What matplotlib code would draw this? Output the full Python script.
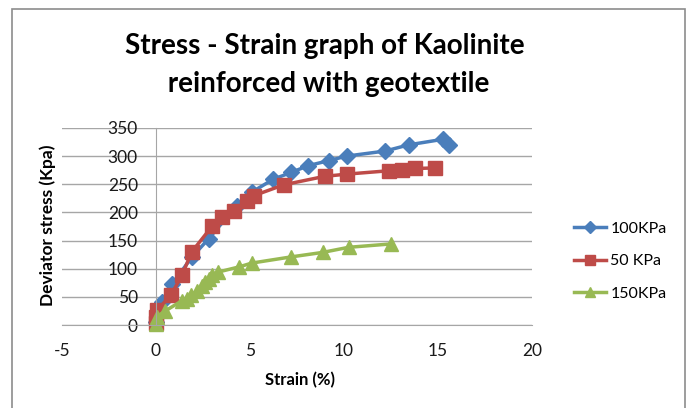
'''
Stress - strain curves of kaolinite reinforced with geotextile.
'''

import matplotlib
matplotlib.use("Agg")
import matplotlib.pyplot as plt
from matplotlib.patches import Rectangle

plt.rcParams['font.family'] = ['Lato', 'DejaVu Sans']
plt.rcParams['axes.unicode_minus'] = False

# 100 KPa confining pressure
strain_100 = [0, 0.3, 0.85, 1.9, 2.8, 4.3, 5.1, 6.25, 7.2, 8.1, 9.2, 10.15, 12.2, 13.45, 15.3, 15.6]
stress_100 = [5, 40, 72, 120, 153, 212, 236, 259, 271, 283, 292, 300, 309, 320, 330, 320]

# 50 KPa
strain_50 = [0, 0, 0.05, 0.8, 1.38, 1.91, 2.98, 3.5, 4.13, 4.84, 5.23, 6.8, 8.97, 10.16, 12.4, 13.1, 13.8, 14.86]
stress_50 = [3, 15, 26, 53, 88, 130, 175, 191, 202, 221, 230, 249, 264, 268, 274, 276, 278, 279]

# 150 KPa
strain_150 = [0, 0.05, 0.5, 1.38, 1.65, 1.86, 2.18, 2.45, 2.62, 2.84, 2.98, 3.3, 4.4, 5.1, 7.2, 8.88, 10.25, 12.5]
stress_150 = [2, 15, 25, 43, 47, 53, 60, 70, 76, 82, 88, 94, 103, 110, 121, 129, 138, 144]

X_TICKS = [-5, 0, 5, 10, 15, 20]
Y_TICKS = [0, 50, 100, 150, 200, 250, 300, 350]

BLUE = "#4A7EBB"
RED = "#BE4B48"
GREEN = "#98B954"

fig = plt.figure(figsize=(6.88, 4.08), dpi=100)
ax = fig.add_axes([0.090, 0.2034, 0.683, 0.483])

# chart frame
fig.patches.append(Rectangle((12 / 688, -0.05), 673 / 688, 1.05 - 9 / 408,
                             transform=fig.transFigure, fill=False,
                             edgecolor="#8C8C8C", lw=1.2))

ax.plot(strain_100, stress_100, color=BLUE, lw=2.5, marker="D", ms=8.5,
        label="100KPa", clip_on=False)
ax.plot(strain_50, stress_50, color=RED, lw=2.5, marker="s", ms=10,
        label="50 KPa", clip_on=False)
ax.plot(strain_150, stress_150, color=GREEN, lw=2.5, marker="^", ms=10,
        label="150KPa", clip_on=False)

ax.set_xlim(-5, 20)
ax.set_ylim(0, 350)
ax.set_xticks(X_TICKS)
ax.set_yticks(Y_TICKS)

# axes the way the spreadsheet draws them
ax.spines['left'].set_position(('data', 0))
for s in ['top', 'right']:
    ax.spines[s].set_visible(False)
ax.spines['left'].set_color("#A6A6A6")
ax.spines['bottom'].set_color("#A6A6A6")
ax.grid(axis='y', color="#A6A6A6", lw=1)
ax.set_axisbelow(True)
ax.tick_params(axis='both', length=0, labelsize=12.5, colors="#1a1a1a")
ax.tick_params(axis='x', pad=13)
ax.tick_params(axis='y', pad=13)

fig.text(300 / 688, 1 - 380 / 408, "Strain (%)", ha='center', va='center',
         fontsize=12, fontweight='bold')
fig.text(48 / 688, 1 - 225 / 408, "Deviator stress (Kpa)", ha='center', va='center',
         rotation=90, fontsize=12.5, fontweight='bold')
fig.text(325 / 688, 1 - 65 / 408, "Stress - Strain graph of Kaolinite\n reinforced with geotextile",
         ha='center', va='center', fontsize=20, fontweight='bold', linespacing=1.55)

ax.legend(loc='center left', bbox_to_anchor=(560 / 688, 1 - 261 / 408),
          bbox_transform=fig.transFigure, frameon=False, fontsize=11.5,
          handlelength=2.0, labelspacing=1.15, handletextpad=0.25, markerscale=0.75)

fig.savefig("out.png", dpi=100)
